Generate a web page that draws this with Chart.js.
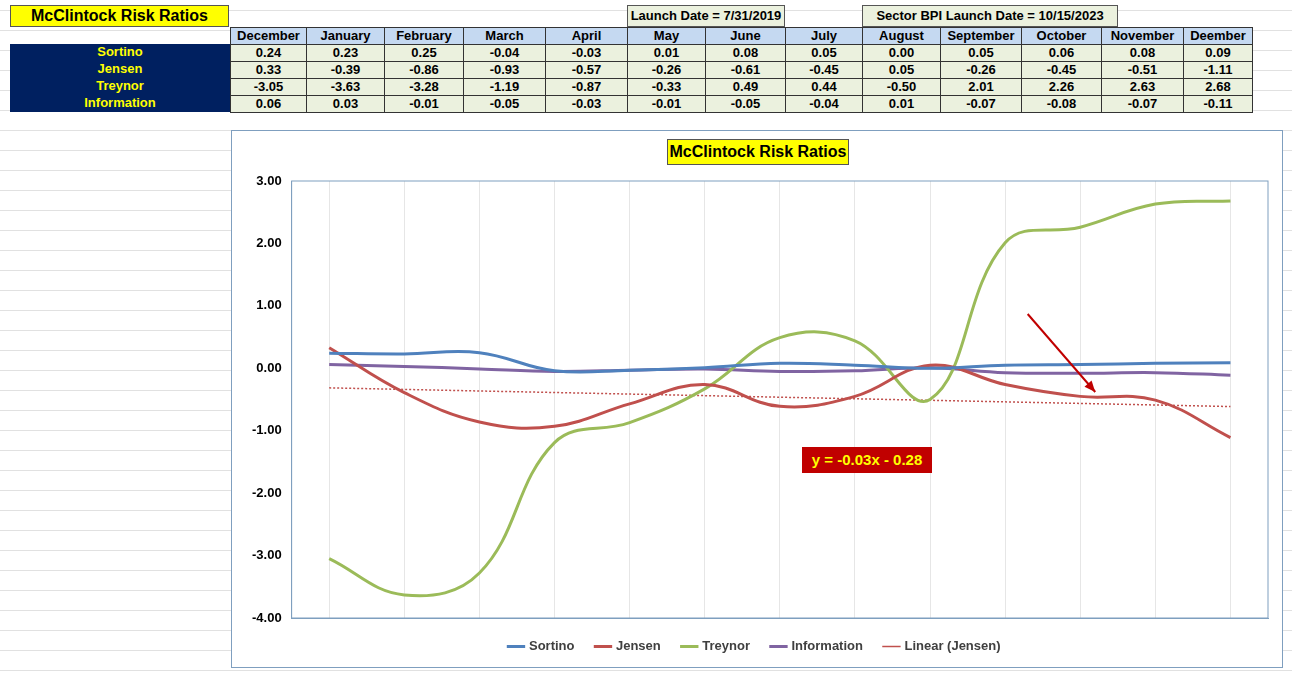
<!DOCTYPE html>
<html><head><meta charset="utf-8">
<script src="https://cdn.jsdelivr.net/npm/chart.js@4/dist/chart.umd.min.js"></script>
<style>
body{margin:0;width:1292px;height:675px;overflow:hidden;font-family:"Liberation Sans",Arial,sans-serif;background:#fff;
background-image:linear-gradient(#e1e1e1 1px,transparent 1px);background-size:100% 20px;background-position:0 10px;position:relative}
.c{position:absolute;box-sizing:border-box;font-weight:bold;font-size:13px;text-align:center;line-height:16px}
#box{position:absolute;left:231px;top:130px;width:1052px;height:538px;border:1px solid #7f9fbf;background:#fff;box-sizing:border-box}
</style></head><body>
<div id="tbl"></div>
<div id="box"><canvas id="ch" width="1050" height="536"></canvas>
<div class="c" style="left:435px;top:8px;width:182px;height:26px;background:#ffff00;border:1px solid #555;font-size:16px;line-height:24px">McClintock Risk Ratios</div>
<div class="c" style="left:570px;top:316px;width:130px;height:26px;background:#c00000;color:#ffff00;font-size:15px;line-height:26px">y = -0.03x - 0.28</div>
</div>
<script>
const months=["December","January","February","March","April","May","June","July","August","September","October","November","Deember"];
const sortino=[0.24,0.23,0.25,-0.04,-0.03,0.01,0.08,0.05,0.00,0.05,0.06,0.08,0.09];
const jensen=[0.33,-0.39,-0.86,-0.93,-0.57,-0.26,-0.61,-0.45,0.05,-0.26,-0.45,-0.51,-1.11];
const treynor=[-3.05,-3.63,-3.28,-1.19,-0.87,-0.33,0.49,0.44,-0.50,2.01,2.26,2.63,2.68];
const information=[0.06,0.03,-0.01,-0.05,-0.03,-0.01,-0.05,-0.04,0.01,-0.07,-0.08,-0.07,-0.11];
const colEdges=[230,306,384,463,545,627,705,785,862,940,1021,1101,1183,1252];

// table
let h='';
const t=document.getElementById('tbl');
h+=`<div class="c" style="left:10px;top:5px;width:219px;height:22px;background:#ffff00;border:1px solid #555;font-size:16px;line-height:20px">McClintock Risk Ratios</div>`;
h+=`<div class="c" style="left:627px;top:5px;width:158px;height:22px;background:#ebf1de;border:1px solid #555;line-height:20px">Launch Date = 7/31/2019</div>`;
h+=`<div class="c" style="left:862px;top:5px;width:256px;height:22px;background:#ebf1de;border:1px solid #555;line-height:20px">Sector BPI Launch Date = 10/15/2023</div>`;
months.forEach((m,i)=>{h+=`<div class="c" style="left:${colEdges[i]}px;top:27px;width:${colEdges[i+1]-colEdges[i]+1}px;height:18px;background:#c5d9f1;border:1px solid #333">${m}</div>`;});
const rows=[["Sortino",sortino],["Jensen",jensen],["Treynor",treynor],["Information",information]];
h+=`<div style="position:absolute;left:10px;top:44px;width:220px;height:68px;background:#002060"></div>`;
rows.forEach((r,j)=>{const y=44+j*17;
h+=`<div class="c" style="left:10px;top:${y}px;width:220px;height:17px;color:#ffff00">${r[0]}</div>`;
r[1].forEach((v,i)=>{h+=`<div class="c" style="left:${colEdges[i]}px;top:${y}px;width:${colEdges[i+1]-colEdges[i]+1}px;height:18px;background:#ebf1de;border:1px solid #333">${v.toFixed(2)}</div>`;});});
t.innerHTML=h;

// linear trend of Jensen (least squares, x=1..n)
const n=jensen.length;let sx=0,sy=0,sxy=0,sxx=0;
jensen.forEach((v,i)=>{const x=i+1;sx+=x;sy+=v;sxy+=x*v;sxx+=x*x;});
const slope=(n*sxy-sx*sy)/(n*sxx-sx*sx),icpt=(sy-slope*sx)/n;
const trend=jensen.map((v,i)=>slope*(i+1)+icpt);

const arrow={id:'arrow',afterDatasetsDraw(c){const x=c.scales.x,y=c.scales.y,g=c.ctx;
const x1=x.getPixelForValue(9.3),y1=y.getPixelForValue(0.87),x2=x.getPixelForValue(10.2),y2=y.getPixelForValue(-0.38);
g.save();g.strokeStyle='#c00000';g.fillStyle='#c00000';g.lineWidth=2;g.beginPath();g.moveTo(x1,y1);g.lineTo(x2,y2);g.stroke();
const a=Math.atan2(y2-y1,x2-x1);g.beginPath();g.moveTo(x2+4,y2+4*Math.tan(0));
g.moveTo(x2,y2);g.lineTo(x2-12*Math.cos(a-0.4),y2-12*Math.sin(a-0.4));g.lineTo(x2-12*Math.cos(a+0.4),y2-12*Math.sin(a+0.4));g.closePath();g.fill();g.restore();}};

const ds=(l,d,c)=>({label:l,data:d,borderColor:c,backgroundColor:c,borderWidth:3,tension:0.4,pointRadius:0});
new Chart(document.getElementById('ch'),{type:'line',
data:{labels:months,datasets:[ds('Sortino',sortino,'#4f81bd'),ds('Jensen',jensen,'#c0504d'),ds('Treynor',treynor,'#9bbb59'),ds('Information',information,'#8064a2'),
{label:'Linear (Jensen)',data:trend,borderColor:'#c0504d',backgroundColor:'#c0504d',borderWidth:1.5,borderDash:[2,2],pointRadius:0,tension:0}]},
options:{responsive:false,animation:false,
layout:{padding:{top:50,right:14,left:10,bottom:4}},
plugins:{tooltip:{enabled:false},legend:{position:'bottom',labels:{usePointStyle:true,pointStyle:'line',boxWidth:34,padding:22,color:'#404040',font:{size:13,weight:'bold',family:'Liberation Sans'}}}},
scales:{x:{offset:true,ticks:{display:false},grid:{color:'#e6e6e6',offset:false,drawTicks:false},border:{color:'#7f9fbf'}},
y:{min:-4,max:3,ticks:{stepSize:1,color:'#000',font:{size:13,weight:'bold',family:'Liberation Sans'},callback:v=>v.toFixed(2),padding:10},grid:{display:false,drawTicks:false},border:{color:'#7f9fbf'}}}},
plugins:[arrow,{id:'frame',afterDraw(c){const a=c.chartArea,g=c.ctx;g.save();g.strokeStyle='#7f9fbf';g.strokeRect(a.left,a.top,a.right-a.left,a.bottom-a.top);g.restore();}}]});
</script></body></html>
